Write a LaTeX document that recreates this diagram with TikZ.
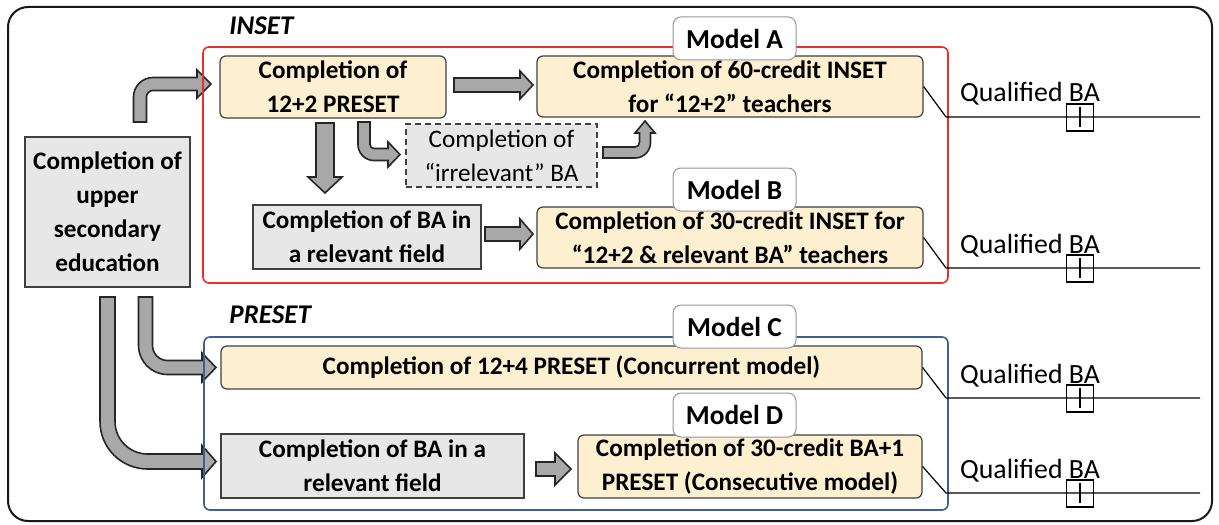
\documentclass[tikz,border=0pt]{standalone}
\usepackage{fontspec}
\setmainfont{Carlito}
\usetikzlibrary{calc}
\definecolor{yel}{RGB}{252,240,209}
\definecolor{lgray}{RGB}{231,231,231}
\definecolor{agray}{RGB}{168,168,168}
\definecolor{bord}{RGB}{64,64,64}
\definecolor{redb}{RGB}{232,48,40}
\definecolor{blueb}{RGB}{62,96,140}
\definecolor{tabb}{RGB}{150,150,150}
\begin{document}
\begin{tikzpicture}[x=0.5pt,y=-0.5pt,
 sz/.style 2 args={minimum width=#1*0.5pt,minimum height=#2*0.5pt},
 box/.style={draw=bord,line width=0.6pt,inner sep=0pt,align=center,font=\fontsize{12.6}{17}\selectfont\bfseries},
 ybox/.style={box,fill=yel,rounded corners=3pt},
 gbox/.style={box,fill=lgray},
 dbox/.style={box,fill=lgray,dash pattern=on 3pt off 2pt,font=\fontsize{12.6}{17}\selectfont},
 tab/.style={draw=tabb,fill=white,rounded corners=4pt,line width=0.5pt,inner sep=0pt,font=\fontsize{13.7}{15}\selectfont\bfseries},
 blk/.style={draw=black!85,fill=agray,line width=0.8pt,line join=miter},
 grp/.style={line width=0.8pt,rounded corners=3pt,inner sep=0pt},
 qline/.style={line width=0.6pt,black},
 qtxt/.style={font=\fontsize{13.9}{15}\selectfont,anchor=base,inner sep=0pt},
 pbox/.style={draw,line width=0.6pt,sz={27}{27},inner sep=0pt},
 glabel/.style={font=\fontsize{13.5}{15}\selectfont\bfseries\itshape,anchor=base west,inner sep=0pt}
]
\useasboundingbox (0,0) rectangle (1219,524);
\fill[white] (0,0) rectangle (1219,524);
% outer frame
\draw[line width=1pt,black!90,rounded corners=10pt] (8,7) rectangle (1212,521);

% group labels
\node[glabel] (lInset) at (229,35) {INSET};
\node[glabel] (lPreset) at (229,323) {PRESET};

% block arrows (drawn below the group frames)
% usec -> p12
\draw[blk] (133.5,122) -- (133.5,97) arc[start angle=180,end angle=270,radius=19.5] -- (197,77.5) -- (197,70) -- (211,84) -- (197,98) -- (197,90.5) -- (153,90.5) arc[start angle=270,end angle=180,radius=6.5] -- (146.5,122) -- cycle;
% usec -> mC
\draw[blk] (138.5,297) -- (138.5,345.5) arc[start angle=180,end angle=90,radius=29] -- (202,374.5) -- (202,382) -- (216,367.5) -- (202,353) -- (202,360.5) -- (167.5,360.5) arc[start angle=90,end angle=180,radius=15] -- (152.5,297) -- cycle;
% usec -> baP
\draw[blk] (100,297) -- (100,421.5) arc[start angle=180,end angle=90,radius=47.5] -- (202,469) -- (202,477.5) -- (216,461.5) -- (202,445.5) -- (202,454) -- (147.5,454) arc[start angle=90,end angle=180,radius=32.5] -- (115,297) -- cycle;

% group frames
\node[grp,draw=redb,sz={745}{236}] (inset) at (575.5,165) {};
\node[grp,draw=blueb,sz={744}{173}] (preset) at (576,423.5) {};

% boxes
\node[ybox,sz={226}{62}] (p12) at (333,87) {Completion of\\12+2 PRESET};
\node[ybox,sz={386}{61}] (mA) at (730,86.5) {Completion of 60-credit INSET\\for “12+2” teachers};
\node[dbox,sz={191}{63}] (irr) at (501.5,155.5) {Completion of\\“irrelevant” BA};
\node[gbox,sz={228}{64}] (baI) at (367,237) {Completion of BA in\\a relevant field};
\node[ybox,sz={386}{61}] (mB) at (730,237.5) {Completion of 30-credit INSET for\\“12+2 \& relevant BA” teachers};
\node[gbox,sz={165}{150}] (usec) at (107.5,212) {Completion of\\upper\\secondary\\education};
\node[ybox,sz={701}{43}] (mC) at (571.5,367.5) {Completion of 12+4 PRESET (Concurrent model)};
\node[gbox,sz={303}{64}] (baP) at (372.5,466) {Completion of BA in a\\relevant field};
\node[ybox,sz={344}{63}] (mD) at (750,466.5) {Completion of 30-credit BA+1\\PRESET (Consecutive model)};

% tabs
\node[tab,sz={123}{43}] (tA) at (734.5,38.5) {Model A};
\node[tab,sz={123}{43}] (tB) at (734.5,189.5) {Model B};
\node[tab,sz={123}{43}] (tC) at (734.5,326.5) {Model C};
\node[tab,sz={123}{44}] (tD) at (734.5,415) {Model D};

% inner block arrows
% p12 -> mA
\draw[blk] (454,78) -- (520,78) -- (520,71) -- (533,85) -- (520,99) -- (520,92) -- (454,92) -- cycle;
% p12 -> baI
\draw[blk] (316,123) -- (316,177) -- (308,177) -- (325,193) -- (342,177) -- (334,177) -- (334,123) -- cycle;
% p12 -> irr
\draw[blk] (358,122) -- (358,144.5) arc[start angle=180,end angle=90,radius=16] -- (388,160.5) -- (388,167) -- (400,154.5) -- (388,142) -- (388,148.5) -- (374,148.5) arc[start angle=90,end angle=180,radius=4] -- (370,122) -- cycle;
% irr -> mA
\draw[blk] (603,158) -- (635,158) arc[start angle=90,end angle=0,radius=15.5] -- (650.5,133) -- (655,133) -- (645,121) -- (635,133) -- (639.5,133) -- (639.5,142.5) arc[start angle=0,end angle=90,radius=4.5] -- (603,147) -- cycle;
% baI -> mB
\draw[blk] (485,227) -- (520,227) -- (520,219) -- (533,234) -- (520,249) -- (520,241) -- (485,241) -- cycle;
% baP -> mD
\draw[blk] (536,462) -- (555,462) -- (555,453) -- (571,469) -- (555,485) -- (555,476) -- (536,476) -- cycle;

% qualified lines
\coordinate (qA) at (946,117); \coordinate (qAe) at (1200,117);
\coordinate (qB) at (946,268); \coordinate (qBe) at (1200,268);
\coordinate (qC) at (946,398); \coordinate (qCe) at (1200,398);
\coordinate (qD) at (946,493); \coordinate (qDe) at (1200,493);
\draw[qline] (mA.east) -- (qA) -- (qAe);
\draw[qline] (mB.east) -- (qB) -- (qBe);
\draw[qline] (mC.east) -- (qC) -- (qCe);
\draw[qline] (mD.east) -- (qD) -- (qDe);
\foreach \n/\y in {A/117,B/268,C/398,D/493}{
  \node[qtxt] (qt\n) at (1030,\y-15) {Qualified BA};
  \node[pbox] (pb\n) at (1080,\y+0.5) {};
  \draw[qline] (1080,\y-10) -- (1080,\y+10);
}
\end{tikzpicture}
\end{document}
